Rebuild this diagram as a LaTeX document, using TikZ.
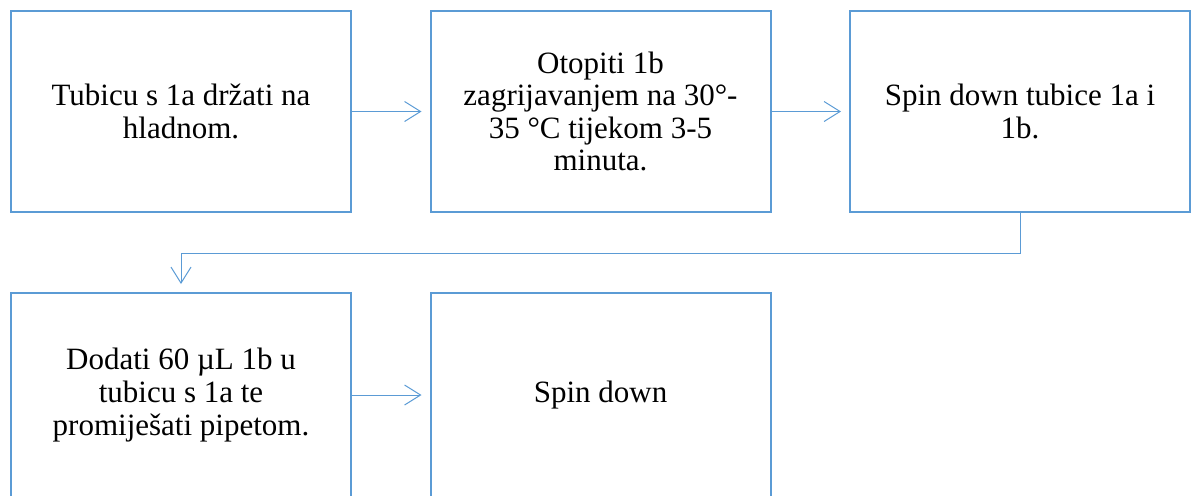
\documentclass[tikz,border=0pt]{standalone}
\usepackage{fontspec}
\setmainfont{Liberation Serif}
\usetikzlibrary{positioning,arrows.meta}
\definecolor{boxblue}{RGB}{91,155,213}

\begin{document}
\begin{tikzpicture}[x=0.5pt,y=0.5pt,
  stepbox/.style={draw=boxblue,line width=1pt,fill=white,
    minimum width=170pt,minimum height=100.5pt,inner sep=0pt,
    align=center,font=\fontsize{15.5}{16.3}\selectfont},
  lowbox/.style={stepbox,minimum height=102pt},
  conn/.style={draw=boxblue,line width=0.5pt,
    -{Straight Barb[length=8pt,width=10pt]},shorten >=4pt}
]
\useasboundingbox (0,0) rectangle (1192,-495);

% first row
\node[stepbox] (hold) at (181,-111.5) {Tubicu s 1a držati na\\hladnom.};
\node[stepbox,right=38.75pt of hold] (melt) {Otopiti 1b\\zagrijavanjem na 30°-\\35 °C tijekom 3-5\\minuta.};
\node[stepbox,right=38.75pt of melt] (spin) {Spin down tubice 1a i\\1b.};

% second row (cut off at the bottom)
\node[lowbox,below=39.5pt of hold] (mix) {Dodati 60 µL 1b u\\tubicu s 1a te\\promiješati pipetom.};
\node[lowbox,right=38.75pt of mix] (spinb) {Spin down};

% connectors
\draw[conn] (hold) -- (melt);
\draw[conn] (melt) -- (spin);
\draw[conn] (spin.south) -- ++(0,-40) -| (mix.north);
\draw[conn] (mix) -- (spinb);
\end{tikzpicture}
\end{document}
